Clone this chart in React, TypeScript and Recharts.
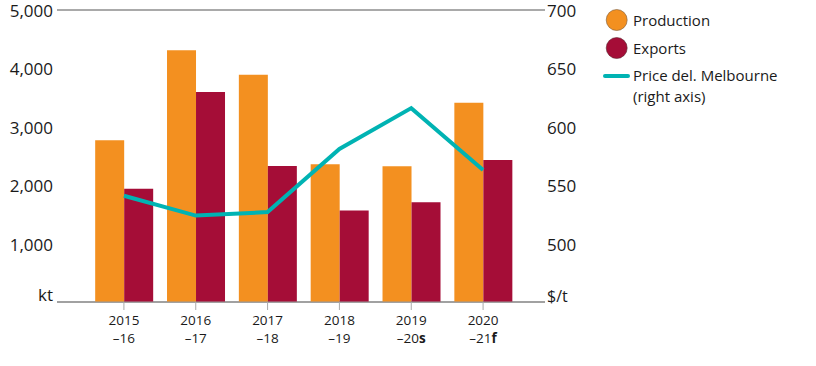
import {
  Bar,
  CartesianGrid,
  ComposedChart,
  Line,
  XAxis,
  YAxis,
} from "recharts";

const years = ["2015", "2016", "2017", "2018", "2019", "2020"];
const yearEnds = ["–16", "–17", "–18", "–19", "–20", "–21"];
const yearFlags = ["", "", "", "", "s", "f"];
const production = [2770, 4310, 3890, 2360, 2325, 3410];
const exportsKt = [1940, 3595, 2330, 1565, 1710, 2430];
const priceMelb = [541, 524, 527, 581, 616, 563];

const leftTicks = [0, 1000, 2000, 3000, 4000, 5000];
const rightTicks = [450, 500, 550, 600, 650, 700];

const data = years.map((y, i) => ({
  year: y,
  production: production[i],
  exports: exportsKt[i],
  price: priceMelb[i],
}));

const FONT = "'Open Sans', sans-serif";
const ORANGE = "#F39020";
const CRIMSON = "#A50D37";
const TEAL = "#00B3B3";

const XTick = ({ x, y, payload }: any) => {
  const i = payload.index;
  return (
    <g fontFamily={FONT} fontSize={13.5} fill="#1a1a1a">
      <text x={x} y={y + 13} textAnchor="middle">{years[i]}</text>
      <text x={x} y={y + 31} textAnchor="middle">
        {yearEnds[i]}
        <tspan fontWeight="bold">{yearFlags[i]}</tspan>
      </text>
    </g>
  );
};

const LeftTick = ({ x, y, payload }: any) => {
  const v = payload.value;
  return (
    <text
      x={x}
      y={y}
      dy={v === 0 ? -1 : 7}
      textAnchor="end"
      fontFamily={FONT}
      fontSize={17}
      fill="#1a1a1a"
    >
      {v === 0 ? "kt" : v.toLocaleString("en-US")}
    </text>
  );
};

const RightTick = ({ x, y, payload }: any) => {
  const v = payload.value;
  return (
    <text
      x={x}
      y={y}
      dy={v === 450 ? 0 : 7}
      textAnchor="start"
      fontFamily={FONT}
      fontSize={v === 450 ? 16 : 17}
      fill="#1a1a1a"
    >
      {v === 450 ? "$/t" : v}
    </text>
  );
};

const LegendBox = () => (
  <svg
    width={220}
    height={110}
    style={{ position: "absolute", left: 596, top: 0 }}
    fontFamily={FONT}
    fontSize={15}
    fill="#1a1a1a"
  >
    <circle cx={20.7} cy={20} r={10.5} fill={ORANGE} stroke="#7a5a3a" strokeWidth={0.6} />
    <text x={37} y={26}>Production</text>
    <circle cx={20.7} cy={48} r={10.5} fill={CRIMSON} stroke="#5a2a30" strokeWidth={0.6} />
    <text x={37} y={53.5}>Exports</text>
    <line x1={9} x2={32} y1={76} y2={76} stroke={TEAL} strokeWidth={4} strokeLinecap="round" />
    <text x={37} y={81}>Price del. Melbourne</text>
    <text x={37} y={102}>(right axis)</text>
  </svg>
);

export default function App() {
  return (
    <div style={{ position: "absolute", left: 0, top: 0, width: 816, height: 366, background: "#fff" }}>
      <ComposedChart
        width={816}
        height={366}
        data={data}
        margin={{ top: 10, right: 0, bottom: 0, left: 0 }}
        barCategoryGap="10%"
        barGap={0}
      >
        <CartesianGrid vertical={false} stroke="#555" />
        <XAxis
          dataKey="year"
          height={64}
          padding={{ left: 31, right: 26 }}
          axisLine={{ stroke: "#999" }}
          tickLine={{ stroke: "#aaa" }}
          tickSize={8}
          tickMargin={2}
          tick={<XTick />}
          interval={0}
        />
        <YAxis
          yAxisId="left"
          orientation="left"
          width={57}
          domain={[0, 5000]}
          ticks={leftTicks}
          axisLine={false}
          tickLine={false}
          tickSize={0}
          tickMargin={4}
          tick={<LeftTick />}
          interval={0}
        />
        <YAxis
          yAxisId="right"
          orientation="right"
          width={271}
          domain={[450, 700]}
          ticks={rightTicks}
          axisLine={false}
          tickLine={false}
          tickSize={0}
          tickMargin={2}
          tick={<RightTick />}
          interval={0}
        />
        <Bar yAxisId="left" dataKey="production" fill={ORANGE} isAnimationActive={false} />
        <Bar yAxisId="left" dataKey="exports" fill={CRIMSON} isAnimationActive={false} />
        <Line
          yAxisId="right"
          dataKey="price"
          type="linear"
          stroke={TEAL}
          strokeWidth={4}
          dot={false}
          isAnimationActive={false}
        />
      </ComposedChart>
      <LegendBox />
    </div>
  );
}
